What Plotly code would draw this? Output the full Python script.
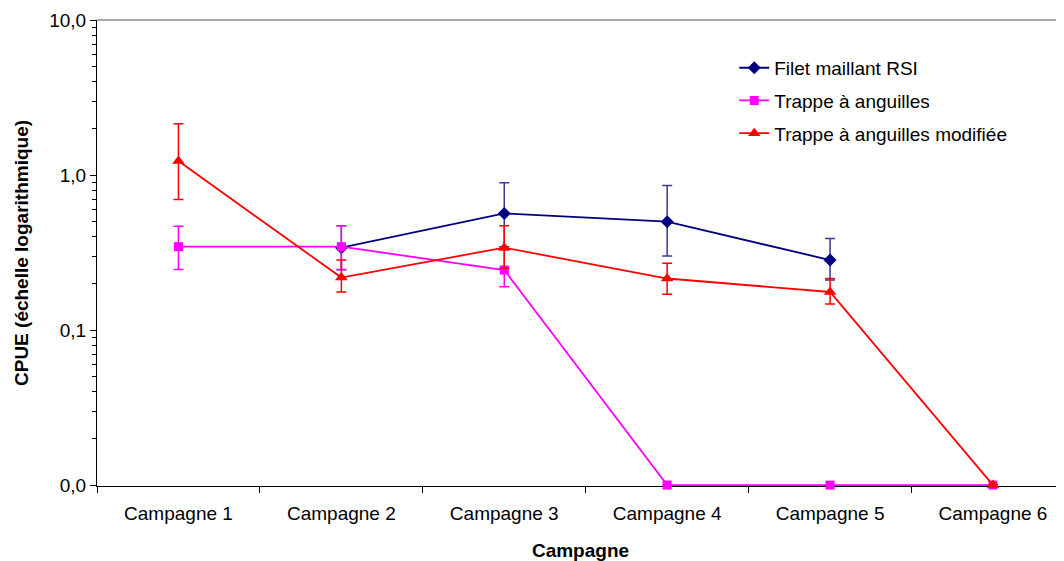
import plotly.graph_objects as go

categories = ["Campagne 1", "Campagne 2", "Campagne 3", "Campagne 4", "Campagne 5", "Campagne 6"]

# CPUE values (None = no data); zeros are drawn on the axis floor labelled "0,0"
filet_vals = [None, 0.34, 0.565, 0.50, 0.283, None]
filet_up = [None, 0.47, 0.89, 0.855, 0.39, None]
filet_lo = [None, 0.245, 0.345, 0.30, 0.21, None]

trappe_vals = [0.345, 0.345, 0.244, 0, 0, 0]
trappe_up = [0.468, 0.47, 0.33, 0, 0, 0]
trappe_lo = [0.246, 0.246, 0.19, 0, 0, 0]

trappe_mod_vals = [1.23, 0.218, 0.34, 0.215, 0.176, 0]
trappe_mod_up = [2.14, 0.283, 0.47, 0.27, 0.215, 0]
trappe_mod_lo = [0.695, 0.176, 0.25, 0.17, 0.147, 0]

y_tickvals = [0.01, 0.1, 1, 10]
y_ticktext = ["0,0", "0,1", "1,0", "10,0"]
AXIS_FLOOR = 0.01

FONT = "Liberation Sans, Arial, sans-serif"


def plot_y(vals):
    return [None if v is None else (v if v > 0 else AXIS_FLOOR) for v in vals]


def err_plus(vals, up):
    return [0 if (v is None or v <= 0) else u - v for v, u in zip(vals, up)]


def err_minus(vals, lo):
    return [0 if (v is None or v <= 0) else v - l for v, l in zip(vals, lo)]


series = [
    ("Filet maillant RSI", filet_vals, filet_up, filet_lo, "#000080", "#3a3a98", "diamond", 10),
    ("Trappe à anguilles", trappe_vals, trappe_up, trappe_lo, "#FF00FF", "#FF00FF", "square", 9),
    ("Trappe à anguilles modifiée", trappe_mod_vals, trappe_mod_up, trappe_mod_lo, "#FF0000", "#FF0000", "triangle-up", 11),
]

fig = go.Figure()
for i, (name, vals, up, lo, col, ecol, sym, msize) in enumerate(series):
    fig.add_trace(go.Scatter(
        x=categories, y=plot_y(vals), name=name, mode="lines+markers",
        line=dict(color=col, width=1.8),
        marker=dict(symbol=sym, size=msize, color=col),
        error_y=dict(type="data", symmetric=False,
                     array=err_plus(vals, up), arrayminus=err_minus(vals, lo),
                     color=ecol, thickness=1.5, width=5),
        cliponaxis=False, legendgroup=f"g{i}", connectgaps=False,
    ))

minor_vals = [m * 10 ** k for k in range(-2, 1) for m in range(2, 10)]

# The page body has an 8px default margin; size the figure to compensate.
fig.update_layout(
    width=1056, height=553,
    margin=dict(l=89, r=0, t=12, b=75),
    paper_bgcolor="white", plot_bgcolor="white",
    font=dict(family=FONT, size=19, color="black"),
    showlegend=True,
    legend=dict(x=0.659, y=0.938, xanchor="left", yanchor="top",
                bgcolor="rgba(0,0,0,0)", font=dict(size=19, family=FONT),
                tracegroupgap=5, traceorder="grouped"),
    hovermode=False,
    xaxis=dict(
        type="category", range=[-0.5, 5.436],
        showline=True, linecolor="black", linewidth=1,
        ticks="outside", tickson="boundaries", ticklen=6, tickcolor="black",
        showgrid=False, zeroline=False, layer="below traces",
        tickfont=dict(size=19), ticklabelstandoff=10,
        title=dict(text="<b>Campagne</b>", font=dict(size=19), standoff=20),
    ),
    yaxis=dict(
        type="log", range=[-2.006, 1],
        tickvals=y_tickvals, ticktext=y_ticktext,
        showline=True, linecolor="black", linewidth=1,
        ticks="outside", ticklen=6, tickcolor="black",
        showgrid=False, zeroline=False,
        tickfont=dict(size=19),
        minor=dict(tickvals=minor_vals, ticks="outside", ticklen=4, tickcolor="black", showgrid=False),
        title=dict(text="<b>CPUE (échelle logarithmique)</b>", font=dict(size=19), standoff=15),
    ),
    shapes=[dict(type="line", xref="paper", yref="paper", x0=0, x1=1, y0=1, y1=1,
                 line=dict(color="#8c8c8c", width=1.5), layer="below")],
)

fig.write_html("out.html")
